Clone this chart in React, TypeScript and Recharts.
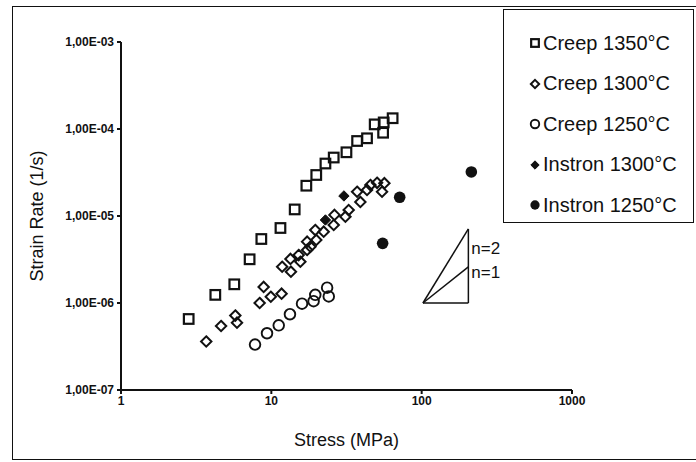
import React from 'react';
import { ScatterChart, Scatter, XAxis, YAxis, Legend, ReferenceLine, ReferenceDot } from 'recharts';

// stress (MPa) and strain rate (1/s)
const creep1350Stress = [2.82, 4.24, 5.67, 7.17, 8.58, 11.5, 14.3, 17.1, 19.9, 22.9, 26.0, 31.6, 37.2, 43.3, 48.7, 55.4, 55.9, 64.1];
const creep1350Rate = [6.55e-7, 1.24e-6, 1.64e-6, 3.18e-6, 5.44e-6, 7.28e-6, 1.19e-5, 2.23e-5, 2.96e-5, 4.01e-5, 4.7e-5, 5.4e-5, 7.28e-5, 7.82e-5, 1.13e-4, 9.06e-5, 1.19e-4, 1.33e-4];

const creep1300Stress = [3.69, 4.63, 5.76, 5.91, 8.36, 8.89, 9.92, 11.7, 11.8, 13.5, 13.4, 15.6, 15.2, 17.3, 18.2, 17.3, 19.6, 19.9, 22.3, 26.0, 26.3, 31.1, 32.7, 37.2, 39.1, 43.3, 45.6, 50.5, 54.5, 56.5];
const creep1300Rate = [3.61e-7, 5.44e-7, 7.18e-7, 5.94e-7, 1.0e-6, 1.53e-6, 1.18e-6, 1.28e-6, 2.61e-6, 2.29e-6, 3.21e-6, 2.98e-6, 3.56e-6, 4.07e-6, 4.44e-6, 5.07e-6, 6.9e-6, 5.3e-6, 6.6e-6, 7.88e-6, 1.03e-5, 9.82e-6, 1.17e-5, 1.9e-5, 1.45e-5, 1.99e-5, 2.27e-5, 2.41e-5, 1.9e-5, 2.38e-5];

const creep1250Stress = [7.79, 9.36, 11.2, 13.3, 16.0, 19.1, 19.6, 23.5, 24.1];
const creep1250Rate = [3.33e-7, 4.49e-7, 5.54e-7, 7.43e-7, 9.82e-7, 1.05e-6, 1.24e-6, 1.5e-6, 1.19e-6];

const instron1300Stress = [22.9, 30.4];
const instron1300Rate = [9.0e-6, 1.7e-5];

const instron1250Stress = [55.0, 71.4, 214];
const instron1250Rate = [4.85e-6, 1.64e-5, 3.21e-5];

// slope triangle
const triStress = [102, 204.5];
const triRate = { base: 1.0e-6, mid: 2.6e-6, top: 7.1e-6 };
const slopeLabels = [
  { text: 'n=2', rate: 4.3e-6 },
  { text: 'n=1', rate: 2.27e-6 },
];

const xTicks = [1, 10, 100, 1000];
const yTicks = [1e-7, 1e-6, 1e-5, 1e-4, 1e-3];

const INK = '#111';
const FONT = '"Liberation Sans", Arial, sans-serif';

const zip = (xs: number[], ys: number[]) => xs.map((x, i) => ({ x, y: ys[i] }));

type Kind = 'square' | 'diamond' | 'circle' | 'fdiamond' | 'fcircle';

const Marker = ({ kind, cx, cy, s = 1 }: { kind: Kind; cx: number; cy: number; s?: number }) => {
  if (kind === 'square') {
    const h = 4.8 * s;
    return <rect x={cx - h} y={cy - h} width={2 * h} height={2 * h} fill="none" stroke={INK} strokeWidth={2.2} />;
  }
  if (kind === 'diamond' || kind === 'fdiamond') {
    const r = 5.2 * s;
    const pts = `${cx},${cy - r} ${cx + r},${cy} ${cx},${cy + r} ${cx - r},${cy}`;
    return kind === 'diamond'
      ? <polygon points={pts} fill="none" stroke={INK} strokeWidth={2} />
      : <polygon points={pts} fill={INK} stroke={INK} strokeWidth={1} />;
  }
  if (kind === 'circle') return <circle cx={cx} cy={cy} r={5.3 * s} fill="none" stroke={INK} strokeWidth={1.9} />;
  return <circle cx={cx} cy={cy} r={5.8 * s} fill={INK} />;
};

const series: { name: string; kind: Kind; data: { x: number; y: number }[] }[] = [
  { name: 'Creep 1350°C', kind: 'square', data: zip(creep1350Stress, creep1350Rate) },
  { name: 'Creep 1300°C', kind: 'diamond', data: zip(creep1300Stress, creep1300Rate) },
  { name: 'Creep 1250°C', kind: 'circle', data: zip(creep1250Stress, creep1250Rate) },
  { name: 'Instron 1300°C', kind: 'fdiamond', data: zip(instron1300Stress, instron1300Rate) },
  { name: 'Instron 1250°C', kind: 'fcircle', data: zip(instron1250Stress, instron1250Rate) },
];

const seriesIndex = (name: string) => series.findIndex((d) => d.name === name);

const renderLegend = (props: any) => {
  const payload = [...(props.payload || [])].sort((a: any, b: any) => seriesIndex(a.value) - seriesIndex(b.value));
  return (
    <div style={{ border: `1.5px solid ${INK}`, width: 191, height: 214, boxSizing: 'border-box', paddingTop: 13, background: '#fff', fontFamily: FONT }}>
      {payload.map((entry: any) => {
        const s = series[seriesIndex(entry.value)];
        return (
          <div key={entry.value} style={{ height: 40.5, display: 'flex', alignItems: 'center', paddingLeft: 25 }}>
            <svg width={12} height={12} style={{ display: 'block' }}>
              <Marker kind={s ? s.kind : 'square'} cx={6} cy={6} s={0.8} />
            </svg>
            <span style={{ marginLeft: 2, fontSize: 20, color: INK }}>{entry.value}</span>
          </div>
        );
      })}
    </div>
  );
};

const fmtRate = (v: number) => `1,00E-0${Math.round(-Math.log10(v))}`;

export default function App() {
  return (
    <div style={{ position: 'absolute', left: 0, top: 0, width: 696, height: 462, overflow: 'hidden', background: '#fff', fontFamily: FONT }}>
      <div style={{ position: 'absolute', left: 12, top: 6, width: 700, height: 454, border: `1.5px solid ${INK}`, boxSizing: 'border-box' }} />
      <ScatterChart width={696} height={462} margin={{ top: 42, right: 124, bottom: 12, left: 0 }}>
        <XAxis
          type="number"
          dataKey="x"
          scale="log"
          domain={[1, 1000]}
          ticks={xTicks}
          allowDataOverflow
          height={60}
          stroke={INK}
          strokeWidth={2}
          tickSize={4}
          tick={{ fontSize: 12, fontWeight: 'bold', fill: INK }}
          label={{ value: 'Stress (MPa)', position: 'insideBottom', offset: 4, fontSize: 18, fill: INK }}
        />
        <YAxis
          type="number"
          dataKey="y"
          scale="log"
          domain={[1e-7, 1e-3]}
          ticks={yTicks}
          allowDataOverflow
          width={121}
          stroke={INK}
          strokeWidth={2}
          tickSize={4}
          tickMargin={3}
          tickFormatter={fmtRate}
          tick={{ fontSize: 12, fontWeight: 'bold', fill: INK }}
          label={({ viewBox }: any) => (
            <text
              x={viewBox.x + 37}
              y={viewBox.y + viewBox.height / 2}
              transform={`rotate(-90 ${viewBox.x + 37} ${viewBox.y + viewBox.height / 2})`}
              textAnchor="middle"
              dominantBaseline="central"
              fontSize={18}
              fill={INK}
            >
              Strain Rate (1/s)
            </text>
          )}
        />
        <ReferenceLine segment={[{ x: triStress[0], y: triRate.base }, { x: triStress[1], y: triRate.base }]} stroke={INK} strokeWidth={1.5} ifOverflow="visible" />
        <ReferenceLine segment={[{ x: triStress[1], y: triRate.base }, { x: triStress[1], y: triRate.top }]} stroke={INK} strokeWidth={1.5} ifOverflow="visible" />
        <ReferenceLine segment={[{ x: triStress[0], y: triRate.base }, { x: triStress[1], y: triRate.top }]} stroke={INK} strokeWidth={1.5} ifOverflow="visible" />
        <ReferenceLine segment={[{ x: triStress[0], y: triRate.base }, { x: triStress[1], y: triRate.mid }]} stroke={INK} strokeWidth={1.5} ifOverflow="visible" />
        {slopeLabels.map((l) => (
          <ReferenceDot
            key={l.text}
            x={triStress[1]}
            y={l.rate}
            r={0}
            stroke="none"
            ifOverflow="visible"
            label={{ value: l.text, position: 'right', offset: 3, fontSize: 17, fill: INK }}
          />
        ))}
        {series.map((s) => (
          <Scatter
            key={s.name}
            name={s.name}
            data={s.data}
            fill={INK}
            isAnimationActive={false}
            shape={(p: any) => <Marker kind={s.kind} cx={p.cx} cy={p.cy} />}
          />
        ))}
        <Legend
          layout="vertical"
          align="center"
          verticalAlign="middle"
          content={renderLegend}
          wrapperStyle={{ left: 503, top: 9, width: 191, height: 214 }}
        />
      </ScatterChart>
    </div>
  );
}
